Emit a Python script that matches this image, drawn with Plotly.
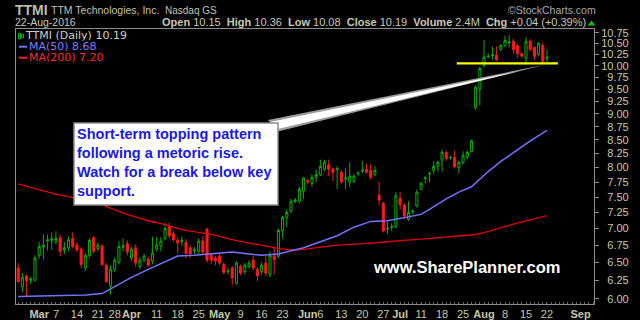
import math
import pandas as pd
import plotly.graph_objects as go

# ---------------- data ----------------
HOLIDAYS = ["2016-03-25", "2016-05-30", "2016-07-04", "2016-09-05"]
calendar = [d.strftime("%Y-%m-%d") for d in pd.bdate_range("2016-02-23", "2016-09-09")
            if d.strftime("%Y-%m-%d") not in HOLIDAYS]
slot = {d: i for i, d in enumerate(calendar)}

opens = [6.42, 6.16, 6.31, 6.25, 6.25, 6.60, 6.72, 6.81, 6.82, 6.80,
         6.86, 6.68, 6.71, 6.85, 6.75, 6.69, 6.42, 6.60, 6.86, 6.70,
         6.74, 6.46, 6.17, 6.40, 6.50, 6.72, 6.77, 6.56, 6.71, 6.44,
         6.53, 6.54, 6.52, 6.69, 6.74, 6.85, 7.03, 6.92, 6.82, 6.80,
         6.79, 6.71, 6.67, 6.66, 6.81, 6.99, 6.60, 6.56, 6.59, 6.47,
         6.37, 6.42, 6.21, 6.44, 6.37, 6.44, 6.53, 6.40, 6.37, 6.49,
         6.33, 6.59, 6.59, 6.97, 7.17, 7.27, 7.43, 7.43, 7.60, 7.78,
         7.73, 7.83, 7.88, 7.97, 8.05, 7.98, 7.96, 7.92, 7.80, 7.75,
         7.76, 7.89, 7.94, 7.97, 7.95, 7.88, 7.53, 7.40, 6.99, 7.02,
         7.03, 7.48, 7.37, 7.14, 7.26, 7.35, 7.63, 7.81, 7.89, 7.95,
         8.02, 8.13, 8.27, 8.17, 8.18, 8.00, 8.09, 8.18, 8.29, 9.12,
         9.50, 10.00, 10.20, 10.22, 10.23, 10.36, 10.45, 10.51, 10.55, 10.45,
         10.27, 10.17, 10.55, 10.41, 10.25, 10.45, 10.15]
highs = [6.49, 6.35, 6.33, 6.30, 6.60, 6.80, 6.91, 6.91, 6.94, 6.96,
         6.91, 6.80, 6.88, 6.94, 6.79, 6.72, 6.63, 6.85, 6.88, 6.79,
         6.76, 6.49, 6.46, 6.57, 6.81, 6.85, 6.82, 6.72, 6.76, 6.57,
         6.62, 6.58, 6.87, 6.87, 6.87, 7.09, 7.09, 6.96, 6.86, 6.88,
         6.84, 6.75, 6.72, 6.85, 6.88, 7.01, 6.63, 6.59, 6.62, 6.50,
         6.42, 6.45, 6.52, 6.47, 6.49, 6.53, 6.59, 6.43, 6.50, 6.59,
         6.66, 6.71, 7.00, 7.20, 7.30, 7.47, 7.48, 7.67, 7.83, 7.80,
         7.88, 7.97, 8.14, 8.14, 8.14, 8.00, 8.02, 7.95, 7.97, 8.09,
         7.88, 7.93, 8.12, 8.07, 8.05, 8.02, 7.75, 7.42, 7.11, 7.08,
         7.58, 7.58, 7.40, 7.43, 7.30, 7.62, 7.76, 7.85, 7.92, 8.11,
         8.12, 8.32, 8.30, 8.21, 8.30, 8.12, 8.29, 8.30, 8.50, 9.58,
         9.98, 10.58, 10.27, 10.43, 10.43, 10.48, 10.68, 10.70, 10.60, 10.48,
         10.29, 10.65, 10.60, 10.43, 10.53, 10.52, 10.36]
lows = [6.22, 6.09, 6.03, 6.20, 6.23, 6.55, 6.54, 6.67, 6.68, 6.76,
        6.59, 6.62, 6.66, 6.70, 6.64, 6.42, 6.38, 6.57, 6.63, 6.66,
        6.45, 6.22, 6.06, 6.36, 6.47, 6.66, 6.60, 6.52, 6.44, 6.41,
        6.50, 6.44, 6.47, 6.66, 6.66, 6.82, 6.85, 6.80, 6.63, 6.74,
        6.56, 6.57, 6.62, 6.62, 6.62, 6.50, 6.48, 6.46, 6.46, 6.33,
        6.33, 6.19, 6.19, 6.32, 6.33, 6.41, 6.39, 6.24, 6.33, 6.31,
        6.29, 6.33, 6.56, 6.85, 7.02, 7.24, 7.40, 7.40, 7.47, 7.72,
        7.67, 7.75, 7.85, 7.94, 7.85, 7.77, 7.63, 7.72, 7.63, 7.67,
        7.73, 7.86, 7.90, 7.90, 7.80, 7.85, 7.37, 6.94, 6.92, 6.96,
        7.00, 7.30, 7.14, 7.12, 7.22, 7.33, 7.62, 7.73, 7.75, 7.88,
        7.93, 7.93, 8.12, 8.14, 7.98, 7.90, 8.06, 8.15, 8.27, 9.08,
        9.17, 9.98, 10.17, 10.13, 10.10, 10.33, 10.43, 10.41, 10.27, 10.17,
        10.18, 10.02, 10.33, 10.13, 10.22, 10.06, 10.08]
closes = [6.23, 6.29, 6.24, 6.27, 6.56, 6.73, 6.75, 6.83, 6.84, 6.85,
          6.66, 6.71, 6.83, 6.73, 6.68, 6.47, 6.60, 6.82, 6.66, 6.75,
          6.47, 6.23, 6.40, 6.53, 6.73, 6.74, 6.65, 6.69, 6.49, 6.53,
          6.59, 6.46, 6.63, 6.75, 6.81, 7.00, 6.89, 6.83, 6.78, 6.82,
          6.63, 6.62, 6.68, 6.81, 6.65, 6.53, 6.53, 6.52, 6.49, 6.36,
          6.38, 6.28, 6.49, 6.35, 6.46, 6.49, 6.42, 6.31, 6.46, 6.35,
          6.60, 6.54, 6.97, 7.17, 7.25, 7.43, 7.45, 7.63, 7.82, 7.75,
          7.83, 7.88, 8.02, 8.09, 7.97, 7.92, 7.98, 7.75, 7.82, 7.85,
          7.85, 7.90, 7.95, 7.92, 7.83, 7.95, 7.45, 6.96, 7.00, 7.03,
          7.52, 7.38, 7.20, 7.25, 7.27, 7.58, 7.73, 7.82, 7.90, 8.02,
          8.09, 8.27, 8.16, 8.18, 8.02, 8.09, 8.21, 8.27, 8.48, 9.54,
          9.94, 10.19, 10.21, 10.23, 10.13, 10.45, 10.57, 10.53, 10.36, 10.27,
          10.21, 10.55, 10.36, 10.21, 10.50, 10.10, 10.19]
dates = calendar[:len(closes)]

ma50_dates = ["2016-02-23", "2016-03-04", "2016-03-16", "2016-03-22", "2016-03-28",
              "2016-04-01", "2016-04-07", "2016-04-13", "2016-04-18", "2016-04-22",
              "2016-04-28", "2016-05-05", "2016-05-11", "2016-05-16", "2016-05-20",
              "2016-05-25", "2016-05-31", "2016-06-06", "2016-06-10", "2016-06-16",
              "2016-06-22", "2016-06-28", "2016-07-05", "2016-07-11", "2016-07-13",
              "2016-07-19", "2016-07-22", "2016-07-27", "2016-08-02", "2016-08-05",
              "2016-08-09", "2016-08-12", "2016-08-16", "2016-08-22"]
ma50_vals = [6.03, 6.04, 6.05, 6.07, 6.16, 6.29, 6.40, 6.51, 6.59, 6.60,
             6.62, 6.65, 6.62, 6.60, 6.62, 6.66, 6.71, 6.80, 6.89, 7.02,
             7.11, 7.12, 7.17, 7.22, 7.30, 7.47, 7.58, 7.67, 7.93, 8.11,
             8.21, 8.37, 8.48, 8.68]
ma200_dates = ["2016-02-23", "2016-03-08", "2016-03-14", "2016-03-18", "2016-03-24",
               "2016-03-31", "2016-04-07", "2016-04-13", "2016-04-20", "2016-04-29",
               "2016-05-05", "2016-05-11", "2016-05-17", "2016-05-23", "2016-05-27",
               "2016-06-10", "2016-06-22", "2016-07-05", "2016-07-15", "2016-07-29",
               "2016-08-09", "2016-08-22"]
ma200_vals = [7.72, 7.53, 7.48, 7.42, 7.32, 7.22, 7.12, 7.06, 6.97, 6.90,
              6.83, 6.78, 6.74, 6.69, 6.68, 6.75, 6.78, 6.82, 6.86, 6.92,
              7.05, 7.20]

support_level = 10.05
support_from, support_to = "2016-07-22", "2016-08-24"

month_ticks = [("2016-03-01", "Mar"), ("2016-04-01", "Apr"), ("2016-05-02", "May"),
               ("2016-06-01", "Jun"), ("2016-07-01", "Jul"), ("2016-08-01", "Aug"),
               ("2016-09-01", "Sep")]
week_ticks = [("2016-03-07", "7"), ("2016-03-14", "14"), ("2016-03-21", "21"),
              ("2016-03-28", "28"), ("2016-04-11", "11"), ("2016-04-18", "18"),
              ("2016-04-25", "25"), ("2016-05-09", "9"), ("2016-05-16", "16"),
              ("2016-05-23", "23"), ("2016-06-06", "6"), ("2016-06-13", "13"),
              ("2016-06-20", "20"), ("2016-06-27", "27"), ("2016-07-11", "11"),
              ("2016-07-18", "18"), ("2016-07-25", "25"), ("2016-08-08", "8"),
              ("2016-08-15", "15"), ("2016-08-22", "22")]
y_ticks = [6.00, 6.25, 6.50, 6.75, 7.00, 7.25, 7.50, 7.75, 8.00, 8.25,
           8.50, 8.75, 9.00, 9.25, 9.50, 9.75, 10.00, 10.25, 10.50, 10.75]

# ---------------- figure ----------------
W, H = 640, 320
L, R, T, B = 16, 46, 29, 16
def px(x):
    return (x - L) / (W - L - R)
def py(y):
    return (H - B - y) / (H - T - B)

KHAKI = "#c8c8a4"
fig = go.Figure()
xs = [slot[d] for d in dates]
fig.add_trace(go.Candlestick(
    x=xs, open=opens, high=highs, low=lows, close=closes,
    increasing=dict(line=dict(color="#00b000", width=1), fillcolor="#000000"),
    decreasing=dict(line=dict(color="#ff1a1a", width=1), fillcolor="#ff1a1a"),
    whiskerwidth=0, hoverinfo="skip"))
fig.add_trace(go.Scatter(x=[slot[d] for d in ma200_dates], y=ma200_vals, mode="lines",
                         line=dict(color="#e00000", width=1.3, shape="spline", smoothing=0.6),
                         hoverinfo="skip"))
fig.add_trace(go.Scatter(x=[slot[d] for d in ma50_dates], y=ma50_vals, mode="lines",
                         line=dict(color="#7272ff", width=1.5), hoverinfo="skip"))
fig.add_trace(go.Scatter(x=[slot[support_from] - 0.5, slot[support_to] + 0.6],
                         y=[support_level, support_level], mode="lines",
                         line=dict(color="#ffff00", width=2.2), hoverinfo="skip"))

ticks = sorted([(slot[d], "<b>%s</b>" % t) for d, t in month_ticks] +
               [(slot[d], t) for d, t in week_ticks])

fig.update_layout(
    width=W, height=H, margin=dict(l=L, r=R, t=T, b=B, autoexpand=False),
    paper_bgcolor="#000000", plot_bgcolor="#000000", showlegend=False,
    xaxis=dict(type="linear", range=[-0.52, 137.2], tickmode="array",
               tickvals=[t[0] for t in ticks], ticktext=[t[1] for t in ticks],
               tickangle=0, automargin=False,
               showgrid=False, zeroline=False, showline=True, mirror=True,
               linecolor="#8c8c8c", linewidth=1, ticks="", ticklabelstandoff=0,
               minor=dict(ticks="inside", ticklen=2, dtick=1, tick0=0, tickcolor="#6a6a6a"),
               tickfont=dict(family="Liberation Sans", size=11, color=KHAKI),
               rangeslider=dict(visible=False), fixedrange=True),
    yaxis=dict(type="log", side="right", range=[math.log10(5.933), math.log10(10.837)],
               tickmode="array", tickvals=y_ticks, automargin=False,
               ticktext=[("\u2007" if v < 10 else "") + "%.2f" % v for v in y_ticks],
               showgrid=False, zeroline=False, showline=True, mirror=True,
               linecolor="#8c8c8c", linewidth=1, ticks="outside", ticklen=4,
               tickcolor="#8c8c8c",
               tickfont=dict(family="Liberation Sans", size=11, color=KHAKI),
               fixedrange=True),
)

shapes = []
# callout pointer
shapes.append(dict(type="path", xref="paper", yref="paper", layer="above",
                   path="M %f,%f L %f,%f L %f,%f Z" % (px(268), py(120), px(546), py(64.5), px(278), py(131.5)),
                   fillcolor="#9a9a9a", line=dict(width=0)))
shapes.append(dict(type="path", xref="paper", yref="paper", layer="above",
                   path="M %f,%f L %f,%f L %f,%f Z" % (px(270), py(122), px(520), py(71), px(278), py(129)),
                   fillcolor="#ffffff", line=dict(width=0)))
# callout box
shapes.append(dict(type="rect", xref="paper", yref="paper", layer="above",
                   x0=px(74), x1=px(278), y0=py(205), y1=py(123),
                   fillcolor="#ffffff", line=dict(color="#8c8c8c", width=1.5)))
# legend icons
shapes.append(dict(type="rect", xref="paper", yref="paper", x0=px(18.5), x1=px(20.5),
                   y0=py(39), y1=py(33.5), line=dict(color="#00b000", width=1), fillcolor="#000000"))
shapes.append(dict(type="rect", xref="paper", yref="paper", x0=px(21.5), x1=px(23.5),
                   y0=py(38), y1=py(34), line=dict(color="#00b000", width=1), fillcolor="#000000"))
shapes.append(dict(type="line", xref="paper", yref="paper", x0=px(19), x1=px(27),
                   y0=py(46.7), y1=py(46.7), line=dict(color="#7272ff", width=2)))
shapes.append(dict(type="line", xref="paper", yref="paper", x0=px(19), x1=px(27),
                   y0=py(57.7), y1=py(57.7), line=dict(color="#ff2020", width=2)))
# green up triangle in header
shapes.append(dict(type="path", xref="paper", yref="paper",
                   path="M %f,%f L %f,%f L %f,%f Z" % (px(587.5), py(25.5), px(595.5), py(25.5), px(591.5), py(20.5)),
                   fillcolor="#00c000", line=dict(width=0)))
fig.update_layout(shapes=shapes)

def ann(x, y, text, size, color, xanchor="left", family="Liberation Sans", yanchor="middle",
        align="left", height=None):
    d = dict(xref="paper", yref="paper", x=px(x), y=py(y), text=text, showarrow=False,
             xanchor=xanchor, yanchor=yanchor, align=align, borderpad=0,
             font=dict(family=family, size=size, color=color))
    if height is not None:
        d["height"] = height
    return d

annotations = [
    ann(14, 9.5, "<b>TTMI</b>", 14, "#bcbca4", height=13),
    ann(50, 9.5, "TTM Technologies, Inc.", 10.5, "#c0c0b0", height=12),
    ann(164, 10, "Nasdaq GS", 10, "#c0c0b0", height=12),
    ann(597, 9.5, "\u00a9StockCharts.com", 10.5, "#a8a8a8", xanchor="right", height=12),
    ann(14, 22.5, "22-Aug-2016", 10.5, "#c8c8b4", height=12),
    ann(587, 22.5, "<b>Open</b> 10.15  <b>High</b> 10.36  <b>Low</b> 10.08  <b>Close</b> 10.19  "
                   "<b>Volume</b> 2.4M  <b>Chg</b> +0.04 (+0.39%)", 11, "#c8c8b4", xanchor="right",
        height=12),
    ann(24, 35.7, "TTMI (Daily) 10.19", 11, "#d0d0bc", family="DejaVu Sans", height=10.5),
    ann(28, 46.7, "MA(50) 8.68", 11, "#7d7dff", family="DejaVu Sans", height=10.5),
    ann(28, 57.7, "MA(200) 7.20", 11, "#ff2a2a", family="DejaVu Sans", height=10.5),
    ann(76, 125, "<b>Short-term topping pattern<br>following a metoric rise.<br>"
                 "Watch for a break below key<br>support.</b>", 14.5, "#1818e8", yanchor="top"),
    ann(466, 267, "<b>www.SharePlanner.com</b>", 16.5, "#ffffff", xanchor="center"),
]
fig.update_layout(annotations=annotations)

fig.write_html("out.html", config=dict(displayModeBar=False, staticPlot=True))
